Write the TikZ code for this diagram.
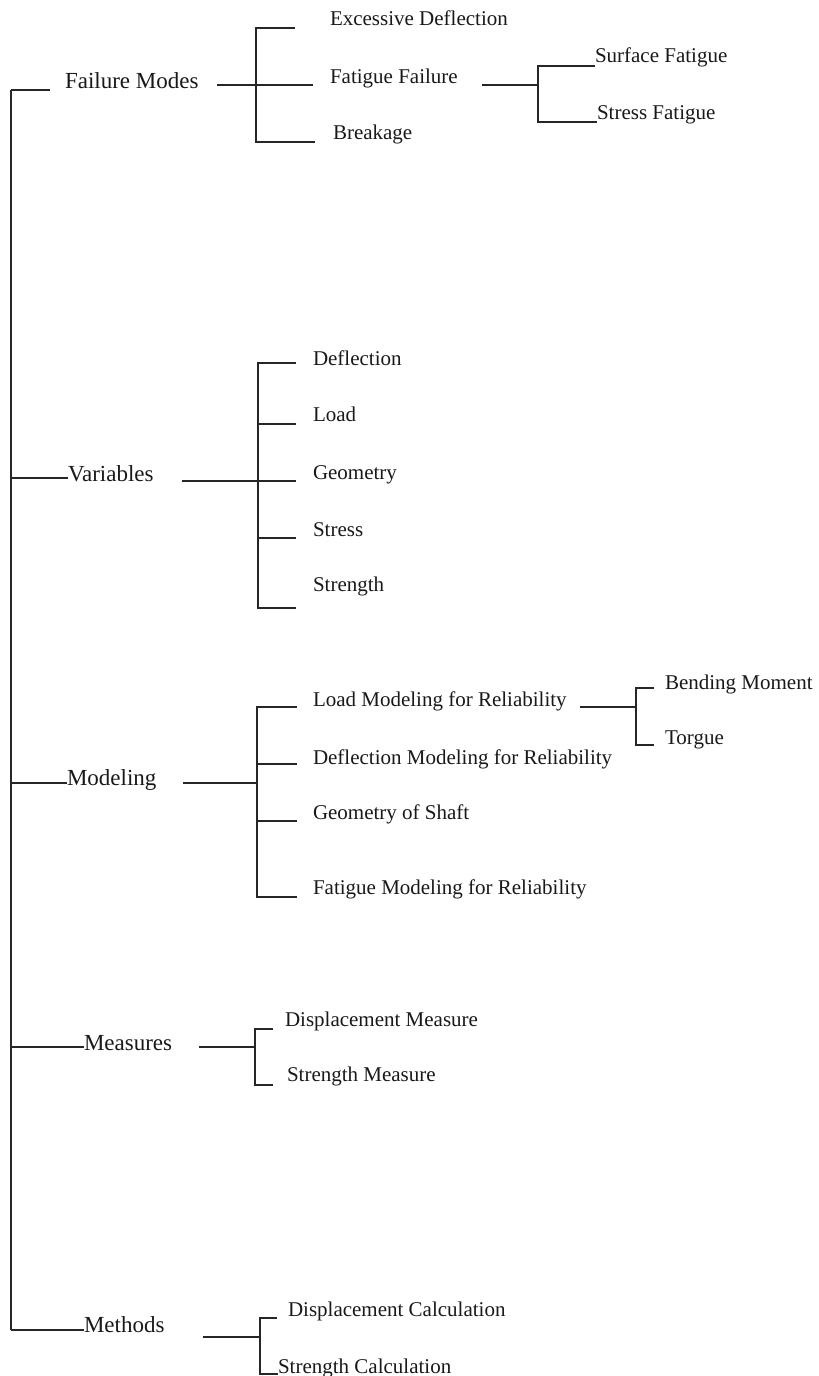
\documentclass[tikz,border=0pt]{standalone}
\usepackage{fontspec}
\setmainfont{Liberation Serif}
\begin{document}
\begin{tikzpicture}[x=1pt,y=-1pt,
  lbl/.style={anchor=base west,inner sep=0pt,outer sep=0pt,text=black!90,font=\fontsize{21}{25}\selectfont},
  top/.style={lbl,font=\fontsize{23}{27}\selectfont},
  ln/.style={line width=1.7pt,draw=black!85}]
\useasboundingbox[fill=white] (0,0) rectangle (819,1376);
% ---- labels ----
\node[top] (fm)  at (65,88)  {Failure Modes};
\node[lbl] (ed)  at (330,25) {Excessive Deflection};
\node[lbl] (ff)  at (330,83) {Fatigue Failure};
\node[lbl] (bk)  at (333,139) {Breakage};
\node[lbl] (sf)  at (595,62) {Surface Fatigue};
\node[lbl] (stf) at (597,119) {Stress Fatigue};
\node[top] (var) at (68,481) {Variables};
\node[lbl] (vd)  at (313,365) {Deflection};
\node[lbl] (vl)  at (313,421) {Load};
\node[lbl] (vg)  at (313,479) {Geometry};
\node[lbl] (vs)  at (313,536) {Stress};
\node[lbl] (vst) at (313,591) {Strength};
\node[top] (mod) at (67,785) {Modeling};
\node[lbl] (lm)  at (313,706) {Load Modeling for Reliability};
\node[lbl] (dm)  at (313,764) {Deflection Modeling for Reliability};
\node[lbl] (gs)  at (313,819) {Geometry of Shaft};
\node[lbl] (fmr) at (313,894) {Fatigue Modeling for Reliability};
\node[lbl] (bm)  at (665,689) {Bending Moment};
\node[lbl] (tq)  at (665,744) {Torgue};
\node[top] (mea) at (84,1050) {Measures};
\node[lbl] (dms) at (285,1026) {Displacement Measure};
\node[lbl] (sms) at (287,1081) {Strength Measure};
\node[top] (met) at (84,1332) {Methods};
\node[lbl] (dc)  at (288,1316) {Displacement Calculation};
\node[lbl] (sc)  at (278,1373) {Strength Calculation};
% ---- junction coordinates ----
\coordinate (t0) at (11,90);
\coordinate (t1) at (11,478);
\coordinate (t2) at (11,783);
\coordinate (t3) at (11,1047);
\coordinate (t4) at (11,1330);
\coordinate (b1t) at (256,28);  \coordinate (b1m) at (256,85);  \coordinate (b1b) at (256,142);
\coordinate (b2t) at (538,66);  \coordinate (b2m) at (538,85);  \coordinate (b2b) at (538,122);
\coordinate (b3t) at (258,363); \coordinate (b3a) at (258,424); \coordinate (b3m) at (258,481); \coordinate (b3c) at (258,538); \coordinate (b3b) at (258,608);
\coordinate (b4t) at (257,707); \coordinate (b4a) at (257,764); \coordinate (b4m) at (257,783); \coordinate (b4c) at (257,821); \coordinate (b4b) at (257,897);
\coordinate (b5t) at (636,688); \coordinate (b5m) at (636,707); \coordinate (b5b) at (636,745);
\coordinate (b6t) at (255,1029); \coordinate (b6m) at (255,1047); \coordinate (b6b) at (255,1085);
\coordinate (b7t) at (260,1318); \coordinate (b7m) at (260,1337); \coordinate (b7b) at (260,1374);
% ---- trunk ----
\draw[ln] (t0) -- (t4);
\draw[ln] (t0) -- (50,90);
\draw[ln] (t1) -- (var.base west |- t1);
\draw[ln] (t2) -- (mod.base west |- t2);
\draw[ln] (t3) -- (mea.base west |- t3);
\draw[ln] (t4) -- (met.base west |- t4);
% ---- Failure Modes ----
\draw[ln] (217,85) -- (b1m) -- (313,85);
\draw[ln] (295,28) -- (b1t) -- (b1b) -- (315,142);
\draw[ln] (482,85) -- (b2m);
\draw[ln] (sf.base west |- b2t) -- (b2t) -- (b2b) -- (stf.base west |- b2b);
% ---- Variables ----
\draw[ln] (182,481) -- (b3m) -- (296,481);
\draw[ln] (296,363) -- (b3t) -- (b3b) -- (296,608);
\draw[ln] (b3a) -- (296,424);
\draw[ln] (b3c) -- (296,538);
% ---- Modeling ----
\draw[ln] (183,783) -- (b4m);
\draw[ln] (297,707) -- (b4t) -- (b4b) -- (297,897);
\draw[ln] (b4a) -- (297,764);
\draw[ln] (b4c) -- (297,821);
\draw[ln] (580,707) -- (b5m);
\draw[ln] (654,688) -- (b5t) -- (b5b) -- (654,745);
% ---- Measures ----
\draw[ln] (199,1047) -- (b6m);
\draw[ln] (273,1029) -- (b6t) -- (b6b) -- (273,1085);
% ---- Methods ----
\draw[ln] (203,1337) -- (b7m);
\draw[ln] (277,1318) -- (b7t) -- (b7b) -- (sc.base west |- b7b);
\end{tikzpicture}
\end{document}
